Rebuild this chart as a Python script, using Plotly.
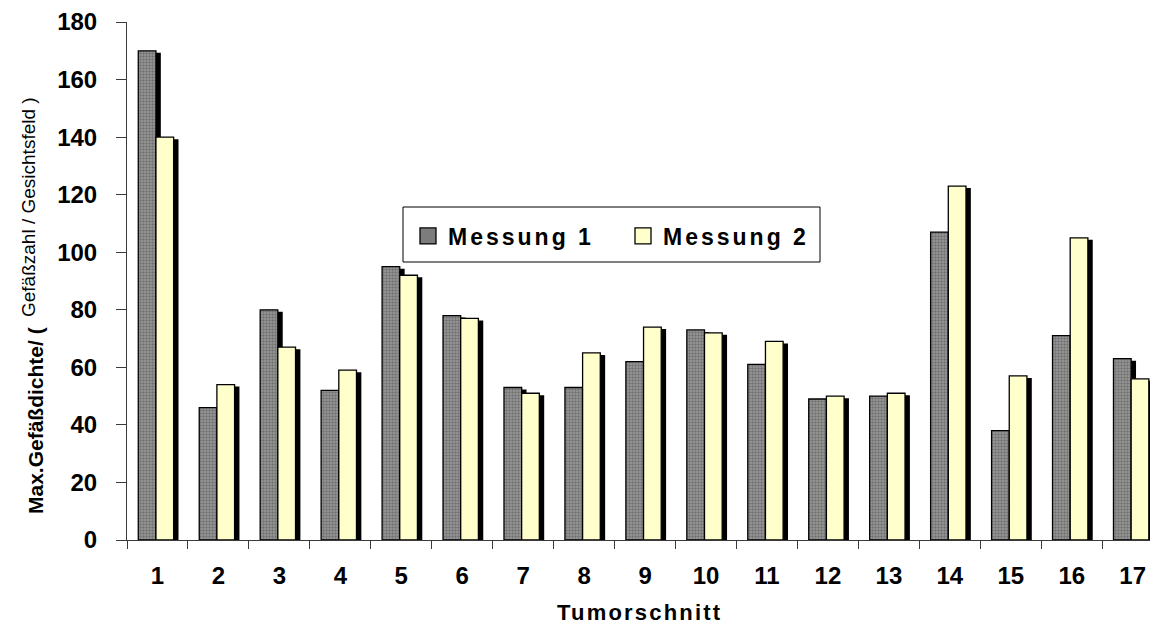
import plotly.graph_objects as go

categories = [str(i) for i in range(1, 18)]
messung1 = [170, 46, 80, 52, 95, 78, 53, 53, 62, 73, 61, 49, 50, 107, 38, 71, 63]
messung2 = [140, 54, 67, 59, 92, 77, 51, 65, 74, 72, 69, 50, 51, 123, 57, 105, 56]
y_ticks = [0, 20, 40, 60, 80, 100, 120, 140, 160, 180]
series_names = ["Messung 1", "Messung 2"]

BW = 0.29
OFF1 = -0.315
OFF2 = -0.025
SH_DX = 0.08
SH_DY = 0.7

GRAY = "#7c7c7c"
YELLOW = "#FFFFCC"
gray_pattern = dict(shape=".", fgcolor="#4a4a4a", bgcolor="#9a9a9a", size=3, solidity=0.5)

fig = go.Figure()
fig.add_trace(go.Bar(x=categories, y=[v - SH_DY for v in messung1], width=BW, offset=OFF1 + SH_DX,
                     marker=dict(color="black", line=dict(width=0)), showlegend=False, hoverinfo="skip"))
fig.add_trace(go.Bar(x=categories, y=messung1, width=BW, offset=OFF1, name=series_names[0],
                     legendgroup="m1", showlegend=False,
                     marker=dict(color=GRAY, pattern=gray_pattern, line=dict(color="black", width=1.3))))
fig.add_trace(go.Bar(x=categories, y=[v - SH_DY for v in messung2], width=BW, offset=OFF2 + SH_DX,
                     marker=dict(color="black", line=dict(width=0)), showlegend=False, hoverinfo="skip"))
fig.add_trace(go.Bar(x=categories, y=messung2, width=BW, offset=OFF2, name=series_names[1],
                     legendgroup="m2", showlegend=False,
                     marker=dict(color=YELLOW, line=dict(color="black", width=1.3))))

# legend entries (larger square symbols than the fixed bar legend glyph)
for nm, col, grp in [(series_names[0], GRAY, "m1"), (series_names[1], YELLOW, "m2")]:
    fig.add_trace(go.Scatter(x=[None], y=[None], mode="markers", legendgroup=grp,
                             name="<span style='letter-spacing:3px'>" + nm + "</span>",
                             marker=dict(symbol="square", size=16, color=col,
                                         line=dict(color="black", width=1.3)),
                             hoverinfo="skip"))

# page has an 8px body margin; plot area should sit at page x 127..1158, y 22..540
W, H = 1150, 620
ML, MR, MT, MB = 119, 0, 14, 88
pw = W - ML - MR   # 1031
ph = H - MT - MB   # 518
unit = 60.95
X0, Y0 = 127, 540  # page coords of plot-area left / bottom


def px(x):
    return (x - X0) / pw


def py(y):
    return (Y0 - y) / ph


fig.update_layout(
    width=W, height=H,
    margin=dict(l=ML, r=MR, t=MT, b=MB),
    barmode="overlay",
    paper_bgcolor="white", plot_bgcolor="white",
    font=dict(family="Liberation Sans, Arial, sans-serif", color="black"),
    showlegend=True,
    legend=dict(
        orientation="h",
        x=px(408), y=py(236), xanchor="left", yanchor="middle",
        bgcolor="rgba(0,0,0,0)", borderwidth=0,
        font=dict(size=23, weight="bold", color="black"),
        itemsizing="trace",
        entrywidth=170, entrywidthmode="pixels",
    ),
    shapes=[
        dict(type="rect", xref="paper", yref="paper",
             x0=px(403), x1=px(820), y0=py(262), y1=py(207),
             line=dict(color="black", width=1), fillcolor="white", layer="above"),
    ],
    xaxis=dict(
        type="category",
        range=[-0.5, -0.5 + pw / unit],
        showline=True, linecolor="#3a3a3a", linewidth=1,
        ticks="outside", ticklen=8, tickcolor="#3a3a3a", tickwidth=1,
        tickson="boundaries",
        tickfont=dict(size=24, weight="bold", color="black"),
        ticklabelstandoff=14,
        showgrid=False, zeroline=False,
    ),
    yaxis=dict(
        range=[0, 180],
        tickvals=y_ticks,
        showline=True, linecolor="#3a3a3a", linewidth=1,
        ticks="outside", ticklen=10, tickcolor="#3a3a3a", tickwidth=1,
        tickfont=dict(size=24, weight="bold", color="black"),
        ticklabelstandoff=14,
        showgrid=False, zeroline=False,
    ),
    annotations=[
        dict(
            text="<b>Max.Gefäßdichte/ (</b>",
            xref="paper", yref="paper",
            x=px(35), y=py(421),
            textangle=-90, showarrow=False,
            font=dict(size=21, color="black"),
            xanchor="center", yanchor="middle",
        ),
        dict(
            text="Gefäßzahl / Gesichtsfeld )",
            xref="paper", yref="paper",
            x=px(29), y=py(207),
            textangle=-90, showarrow=False,
            font=dict(size=19, color="black", family="Liberation Sans, Arial, sans-serif"),
            xanchor="center", yanchor="middle",
        ),
        dict(
            text="<span style='letter-spacing:2.2px'><b>Tumorschnitt</b></span>",
            xref="paper", yref="paper",
            x=px(639), y=py(612),
            showarrow=False,
            font=dict(size=22, color="black"),
            xanchor="center", yanchor="middle",
        ),
    ],
)

fig.write_html("out.html")
